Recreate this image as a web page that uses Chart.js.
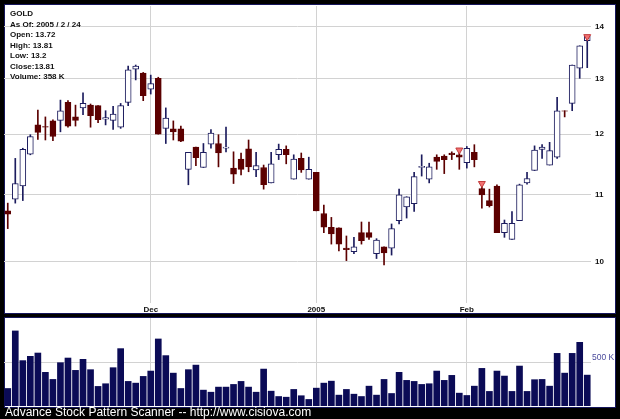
<!DOCTYPE html>
<html>
<head>
<meta charset="utf-8">
<script src="https://cdn.jsdelivr.net/npm/chart.js@4.4.1/dist/chart.umd.min.js"></script>
<style>
  html, body { margin: 0; padding: 0; background: #000; }
  body { width: 620px; height: 419px; position: relative; overflow: hidden; font-family: "Liberation Sans", Arial, sans-serif; }
  .panel { position: absolute; background: #fff; border: 1px solid #16165c; box-sizing: border-box; }
  canvas { position: absolute; }
  #info { position: absolute; left: 10px; top: 9px; font-size: 8px; font-weight: bold; line-height: 10.5px; color: #111; }
  #footer { position: absolute; left: 5px; top: 406px; font-size: 12px; line-height: 13px; color: #fff; }
</style>
</head>
<body>
<div class="panel" style="left:4px;top:4px;width:612px;height:310px"></div>
<div class="panel" style="left:4px;top:317px;width:612px;height:91px"></div>
<canvas id="price" width="611" height="308" style="left:4px;top:5px"></canvas>
<canvas id="volume" width="611" height="88" style="left:4px;top:318px"></canvas>
<div id="info">
  <div>GOLD</div>
  <div>As Of: 2005 / 2 / 24</div>
  <div>Open: 13.72</div>
  <div>High: 13.81</div>
  <div>Low: 13.2</div>
  <div>Close:13.81</div>
  <div>Volume: 358 K</div>
</div>
<div id="footer">Advance Stock Pattern Scanner -- http://www.cisiova.com</div>
<script>
// trading days, Nov 3 2004 .. Feb 24 2005
const dates = [
  "2004-11-03","2004-11-04","2004-11-05","2004-11-08","2004-11-09","2004-11-10","2004-11-11","2004-11-12",
  "2004-11-15","2004-11-16","2004-11-17","2004-11-18","2004-11-19","2004-11-22","2004-11-23","2004-11-24",
  "2004-11-26","2004-11-29","2004-11-30",
  "2004-12-01","2004-12-02","2004-12-03","2004-12-06","2004-12-07","2004-12-08","2004-12-09","2004-12-10",
  "2004-12-13","2004-12-14","2004-12-15","2004-12-16","2004-12-17","2004-12-20","2004-12-21","2004-12-22",
  "2004-12-23","2004-12-27","2004-12-28","2004-12-29","2004-12-30","2004-12-31",
  "2005-01-03","2005-01-04","2005-01-05","2005-01-06","2005-01-07","2005-01-10","2005-01-11","2005-01-12",
  "2005-01-13","2005-01-14","2005-01-18","2005-01-19","2005-01-20","2005-01-21","2005-01-24","2005-01-25",
  "2005-01-26","2005-01-27","2005-01-28","2005-01-31",
  "2005-02-01","2005-02-02","2005-02-03","2005-02-04","2005-02-07","2005-02-08","2005-02-09","2005-02-10",
  "2005-02-11","2005-02-14","2005-02-15","2005-02-16","2005-02-17","2005-02-18","2005-02-22","2005-02-23",
  "2005-02-24"
];

const opens = [10.75,10.93,11.14,11.66,12.16,12.13,12.23,12.24,12.56,12.30,12.46,12.51,12.50,12.26,12.24,12.12,
  12.56,13.17,13.10,12.80,13.00,12.10,12.09,12.09,11.41,11.78,11.44,11.83,11.84,11.76,11.43,11.58,11.75,11.40,
  11.44,11.19,11.65,11.74,11.25,11.59,11.25,11.36,10.71,10.50,10.49,10.19,10.14,10.42,10.42,10.11,10.21,10.19,
  10.60,10.81,10.86,11.44,11.25,11.61,11.63,11.68,11.65,11.52,11.69,11.10,10.91,11.14,10.42,10.32,10.60,11.19,
  11.39,11.74,11.48,11.61,12.41,12.54,13.19,13.72];
const highs = [10.87,11.59,11.76,11.99,12.42,12.30,12.25,12.60,12.59,12.51,12.73,12.53,12.50,12.41,12.49,12.54,
  13.23,13.25,13.11,13.06,13.02,12.46,12.23,12.14,11.69,11.78,11.84,12.08,11.99,12.12,11.70,11.68,11.90,11.69,
  11.48,11.69,11.83,11.80,11.65,11.68,11.61,11.36,10.84,10.65,10.49,10.37,10.35,10.58,10.58,10.33,10.21,10.55,
  11.09,10.97,11.36,11.65,11.51,11.65,11.65,11.70,11.68,11.79,11.82,11.13,11.09,11.16,10.61,10.74,11.17,11.36,
  11.80,11.82,11.86,12.65,12.41,13.25,13.62,13.81];
const lows = [10.48,10.87,10.91,11.65,11.91,11.90,11.89,12.04,12.12,12.14,12.34,12.12,12.20,12.16,12.08,12.10,
  12.50,12.97,12.59,12.71,12.00,11.84,11.90,11.87,11.16,11.47,11.44,11.76,11.45,11.70,11.18,11.32,11.37,11.29,
  11.09,11.19,11.57,11.50,11.25,11.36,11.25,10.75,10.42,10.25,10.15,10.01,10.11,10.25,10.32,10.04,9.95,10.09,
  10.55,10.64,10.74,11.30,11.19,11.41,11.34,11.57,11.41,11.43,11.45,10.79,10.81,10.42,10.35,10.32,10.60,11.17,
  11.39,11.59,11.48,11.59,12.30,12.41,13.00,13.20];
const closes = [10.70,11.18,11.74,11.96,12.03,12.12,11.96,12.41,12.14,12.24,12.54,12.32,12.25,12.29,12.35,12.50,
  13.16,13.23,12.68,12.90,12.00,12.28,12.04,11.88,11.69,11.60,11.69,12.02,11.68,11.78,11.33,11.41,11.45,11.47,
  11.16,11.50,11.74,11.65,11.58,11.40,11.41,10.75,10.50,10.40,10.25,10.17,10.21,10.30,10.35,10.31,10.12,10.48,
  11.00,10.97,11.29,11.46,11.45,11.54,11.57,11.65,11.61,11.76,11.57,11.00,10.83,10.42,10.56,10.56,11.16,11.26,
  11.73,11.78,11.72,12.41,12.40,13.25,13.62,13.81];

// volume in thousands
const volumes = [203,870,526,576,614,390,308,502,556,413,541,421,227,258,444,665,285,265,343,405,
  777,584,381,203,421,474,184,160,219,219,250,285,219,160,428,172,110,102,192,119,
  76,207,265,288,126,192,137,110,230,126,308,145,390,297,285,250,258,405,297,355,
  149,122,230,436,169,405,347,169,463,169,305,308,230,610,381,610,738,358];

// pattern signals (day index, price level of marker)
const signalDays = [60, 63, 77];
const signalPrices = [11.73, 11.18, 13.80];

const priceTicks = [10, 11, 12, 13, 14];
const volumeTicks = [500];
const monthNames = ["Jan","Feb","Mar","Apr","May","Jun","Jul","Aug","Sep","Oct","Nov","Dec"];

// label the first trading day of each month (year on January)
const tickText = dates.map((d, i) => {
  if (i === 0 || d.slice(0, 7) === dates[i - 1].slice(0, 7)) return "";
  const m = +d.slice(5, 7);
  return m === 1 ? d.slice(0, 4) : monthNames[m - 1];
});
const isMonthStart = (i) => tickText[i] !== "";

const navy = "#1c1c5e";
const maroon = "#5c0000";
const gridCol = "#d2d2d2";
const fontFam = "'Liberation Sans', Arial, sans-serif";
const up = closes.map((c, i) => c >= opens[i]);

const signalData = dates.map(() => null);
signalDays.forEach((d, k) => { signalData[d] = signalPrices[k]; });

// fixed axis sizes, no extra label padding around the plot
const fitRight = (s) => {
  s.width = 24;
  s.paddingTop = 0;
  s.paddingBottom = 0;
};
const fitBottom = (h) => (s) => {
  s.height = h;
  s.paddingLeft = 0;
  s.paddingRight = 0;
};

new Chart(document.getElementById("price"), {
  type: "bar",
  data: {
    labels: dates,
    datasets: [
      {
        type: "line",
        data: signalData,
        showLine: false,
        pointStyle: "triangle",
        rotation: 180,
        radius: 4,
        pointBackgroundColor: "#f27272",
        pointBorderColor: "#c23a3a",
        pointBorderWidth: 1,
        order: 0,
      },
      {
        data: opens.map((o, i) => [o, closes[i]]),
        backgroundColor: up.map((u) => (u ? "#ffffff" : maroon)),
        borderColor: up.map((u) => (u ? navy : maroon)),
        borderWidth: 1,
        borderSkipped: false,
        barThickness: 6,
        grouped: false,
        order: 1,
      },
      {
        data: lows.map((l, i) => [l, highs[i]]),
        backgroundColor: up.map((u) => (u ? navy : maroon)),
        barThickness: 1,
        grouped: false,
        order: 2,
      },
    ],
  },
  options: {
    responsive: false,
    animation: false,
    layout: { autoPadding: false, padding: { top: 1 } },
    plugins: { legend: { display: false }, tooltip: { enabled: false } },
    scales: {
      x: {
        offset: true,
        grid: {
          offset: false,
          drawTicks: false,
          color: (ctx) => (isMonthStart(ctx.index) ? gridCol : "rgba(0,0,0,0)"),
        },
        border: { display: false },
        ticks: {
          autoSkip: false,
          maxRotation: 0,
          padding: 2,
          color: "#111",
          font: { size: 8, weight: "bold", family: fontFam },
          callback: (v, i) => tickText[i],
        },
        afterFit: fitBottom(10),
      },
      y: {
        type: "logarithmic",
        position: "right",
        min: 9.42,
        max: 14.42,
        afterBuildTicks: (s) => { s.ticks = priceTicks.map((v) => ({ value: v })); },
        afterFit: fitRight,
        grid: { color: gridCol, drawTicks: false },
        border: { display: false },
        ticks: {
          padding: 4,
          color: "#111",
          font: { size: 8, weight: "bold", family: fontFam },
          callback: (v) => String(v),
        },
      },
    },
  },
});

new Chart(document.getElementById("volume"), {
  type: "bar",
  data: {
    labels: dates,
    datasets: [{ data: volumes, backgroundColor: "#0b0b56", barThickness: 6 }],
  },
  options: {
    responsive: false,
    animation: false,
    layout: { autoPadding: false },
    plugins: { legend: { display: false }, tooltip: { enabled: false } },
    scales: {
      x: {
        offset: true,
        grid: {
          offset: false,
          drawTicks: false,
          color: (ctx) => (isMonthStart(ctx.index) ? gridCol : "rgba(0,0,0,0)"),
        },
        border: { display: false },
        ticks: { display: false, autoSkip: false },
        afterFit: fitBottom(0),
      },
      y: {
        position: "right",
        min: 0,
        max: 1020,
        afterBuildTicks: (s) => { s.ticks = volumeTicks.map((v) => ({ value: v })); },
        afterFit: fitRight,
        grid: { color: gridCol, drawTicks: false },
        border: { display: false },
        ticks: {
          padding: 1,
          color: "#4a4a9c",
          font: { size: 8.5, family: fontFam },
          callback: (v) => [v + " K", ""],
        },
      },
    },
  },
});
</script>
</body>
</html>
